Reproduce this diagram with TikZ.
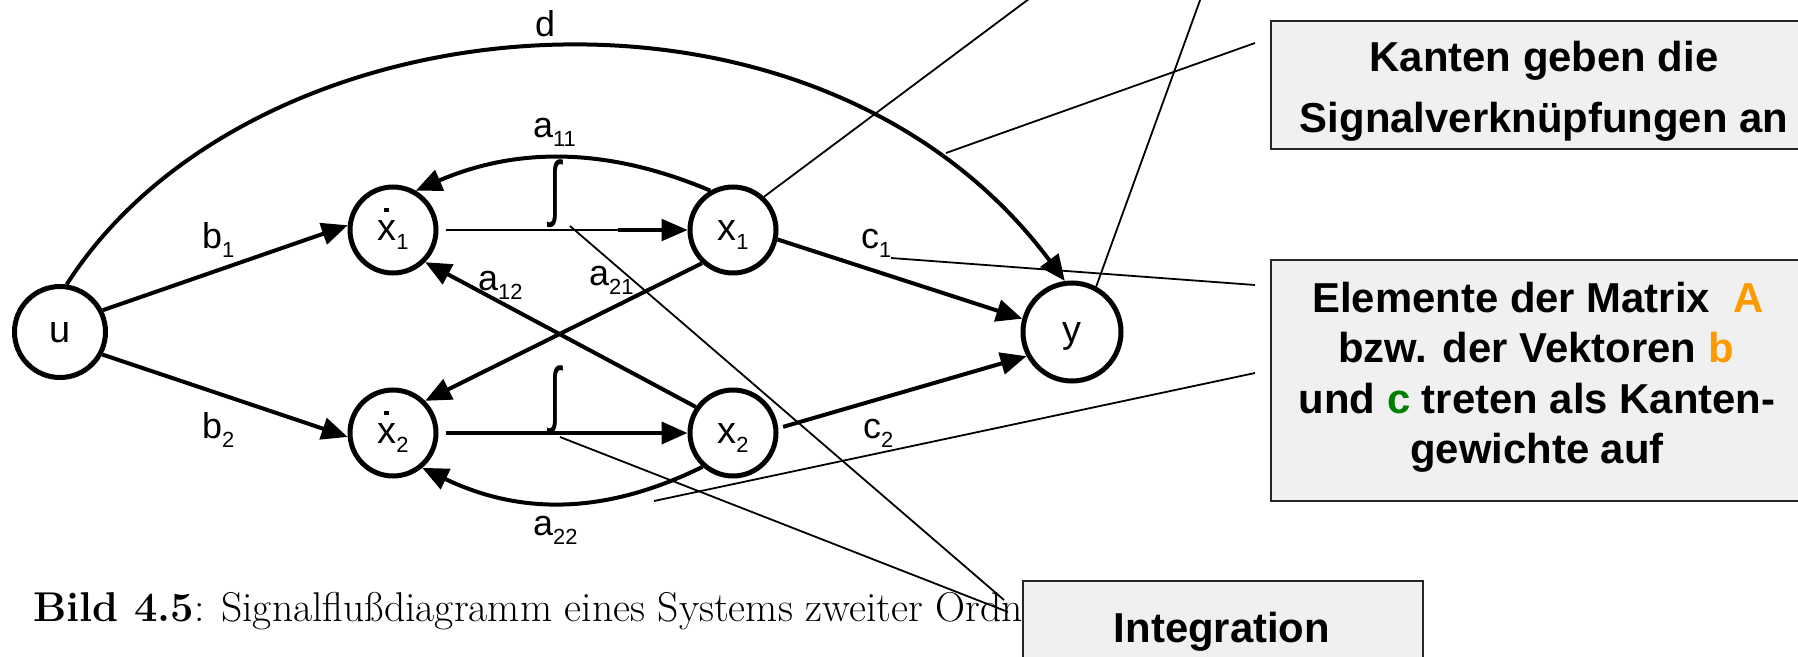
\documentclass[tikz,border=0pt]{standalone}
\usepackage{fontspec}
\usepackage{graphicx}
\usetikzlibrary{arrows.meta,calc}
\newfontfamily\arialfont{Liberation Sans}
\definecolor{boxfill}{HTML}{F0F0F0}
\definecolor{hlorange}{HTML}{FF9900}
\definecolor{hlgreen}{HTML}{008000}
\newcommand{\labfont}{\arialfont\fontsize{36}{36}\selectfont}
\newcommand{\nodefont}{\arialfont\fontsize{38}{38}\selectfont}
\newcommand{\sbs}[1]{\raisebox{-9bp}{\fontsize{22}{22}\selectfont #1}}
\newcommand{\dotx}{\makebox[0pt][l]{\hspace{0.18em}\raisebox{0.74em}{\rule{0.13em}{0.13em}}}x}
\newcommand{\intsym}{\scalebox{0.6}[1]{\resizebox*{!}{68bp}{\arialfont ∫}}}
\begin{document}
\begin{tikzpicture}[x=1bp,y=-1bp,
  state/.style={circle, draw, line width=5bp, minimum size=86bp, inner sep=0pt,
    font=\nodefont, text height=31bp, text depth=10bp},
  edge/.style={line width=4bp, -{Triangle[length=26bp,width=22bp]}},
  thinedge/.style={line width=2.5bp, -{Triangle[length=26bp,width=22bp]}},
  lab/.style={font=\labfont, inner sep=0pt},
  callout/.style={rectangle, draw=black!85, line width=2bp, fill=boxfill, inner sep=0pt},
  ctext/.style={font=\arialfont\bfseries\fontsize{42}{42}\selectfont, inner sep=0pt},
  callline/.style={line width=1.8bp}]
\useasboundingbox (0,0) rectangle (1798,657);
\clip (0,0) rectangle (1798,657);

% nodes
\node[state, minimum size=91bp] (u) at (60,332) {u};
\node[state] (x1d) at (393,230) {\dotx\sbs{1}};
\node[state] (x1) at (733,230) {x\sbs{1}};
\node[state] (x2d) at (393,433) {\dotx\sbs{2}};
\node[state] (x2) at (733,433) {x\sbs{2}};
\node[state, minimum size=98bp] (y) at (1072,332) {y};

% edges
\draw[edge] (u.27) -- (x1d.174);
\draw[edge] (u.-28) -- (x2d.185);
\draw[edge] (u.82) .. controls (251,-4) and (813,-57) .. (y.98);
\draw[thinedge, shorten <=7bp] (x1d.east) -- (x1.west);
\draw[line width=4bp] ($(x1.west)+(-70,0)$) -- ($(x1.west)+(-20,0)$);
\draw[edge, shorten <=7bp] (x2d.east) -- (x2.west);
\draw[edge] (x1.120) .. controls (607,147) and (517,147) .. (x1d.60);
\draw[edge] (x2.228) .. controls (605,515) and (520,515) .. (x2d.310);
\draw[edge] (x1.227) -- (x2d.45);
\draw[edge] (x2.145) -- (x1d.-45);
\draw[edge] (x1.-12) -- (y.165);
\draw[edge, shorten <=5bp] (x2.6) -- (y.208);

% edge labels
\node[lab, anchor=base] (ld) at (545,37) {d};
\node[lab, anchor=base west] (la11) at (533,138) {a\sbs{11}};
\node[lab, anchor=base west] (lb1) at (202,248) {b\sbs{1}};
\node[lab, anchor=base west] (la12) at (478,290) {a\sbs{12}};
\node[lab, anchor=base west] (la21) at (589,285) {a\sbs{21}};
\node[lab, anchor=base west] (lb2) at (202,438) {b\sbs{2}};
\node[lab, anchor=base west] (la22) at (533,535) {a\sbs{22}};
\node[lab, anchor=base west] (lc1) at (861,248) {c\sbs{1}};
\node[lab, anchor=base west] (lc2) at (863,438) {c\sbs{2}};
\node[inner sep=0pt, anchor=south] (int1) at (555,228) {\intsym};
\node[inner sep=0pt, anchor=south] (int2) at (555,434) {\intsym};

% caption
\node[anchor=base west, inner sep=0pt, font=\fontsize{41.8}{42}\selectfont] (cap) at (33,621)
  {\textbf{Bild 4.5}: Signalflußdiagramm eines Systems zweiter Ordnung};

% callout boxes
\node[callout, minimum width=546bp, minimum height=128bp] (kbox) at (1544,85) {};
\node[ctext, anchor=base] (k1) at (1544,72) {Kanten geben die};
\node[ctext, anchor=base] (k2) at (1544,133) {Signalverknüpfungen an};

\node[callout, minimum width=546bp, minimum height=241bp] (ebox) at (1544,380.5) {};
\node[ctext, anchor=base] (e1) at (1538,312) {Elemente der Matrix\ \ {\color{hlorange}A}};
\node[ctext, anchor=base] (e2) at (1536,362) {bzw. der Vektoren {\color{hlorange}b}};
\node[ctext, anchor=base] (e3) at (1537,413) {und {\color{hlgreen}c} treten als Kanten-};
\node[ctext, anchor=base] (e4) at (1537,463) {gewichte auf};

\node[callout, minimum width=400bp, minimum height=119bp] (ibox) at (1223,640.5) {};
\node[ctext, anchor=base] (i1) at (1222,642) {Integration};

% callout lines
\coordinate (topA) at (1061,-25);
\coordinate (topB) at (1211,-30);
\coordinate (kpt) at (1255,43);
\coordinate (dpt) at (946,153);
\coordinate (c1pt) at (891,258);
\coordinate (ept1) at (1255,285);
\coordinate (ept2) at (1255,373);
\coordinate (a22pt) at (654,501);
\coordinate (intA) at (570,226);
\coordinate (intB) at (560,437);
\coordinate (ipt1) at (1004,600);
\coordinate (ipt2) at (1008,612);
\draw[callline] (topA) -- (x1.47);
\draw[callline] (topB) -- (y.62);
\draw[callline] (kpt) -- (dpt);
\draw[callline] (c1pt) -- (ept1);
\draw[callline] (ept2) -- (a22pt);
\draw[callline] (intA) -- (ipt1);
\draw[callline] (intB) -- (ipt2);
\end{tikzpicture}
\end{document}
